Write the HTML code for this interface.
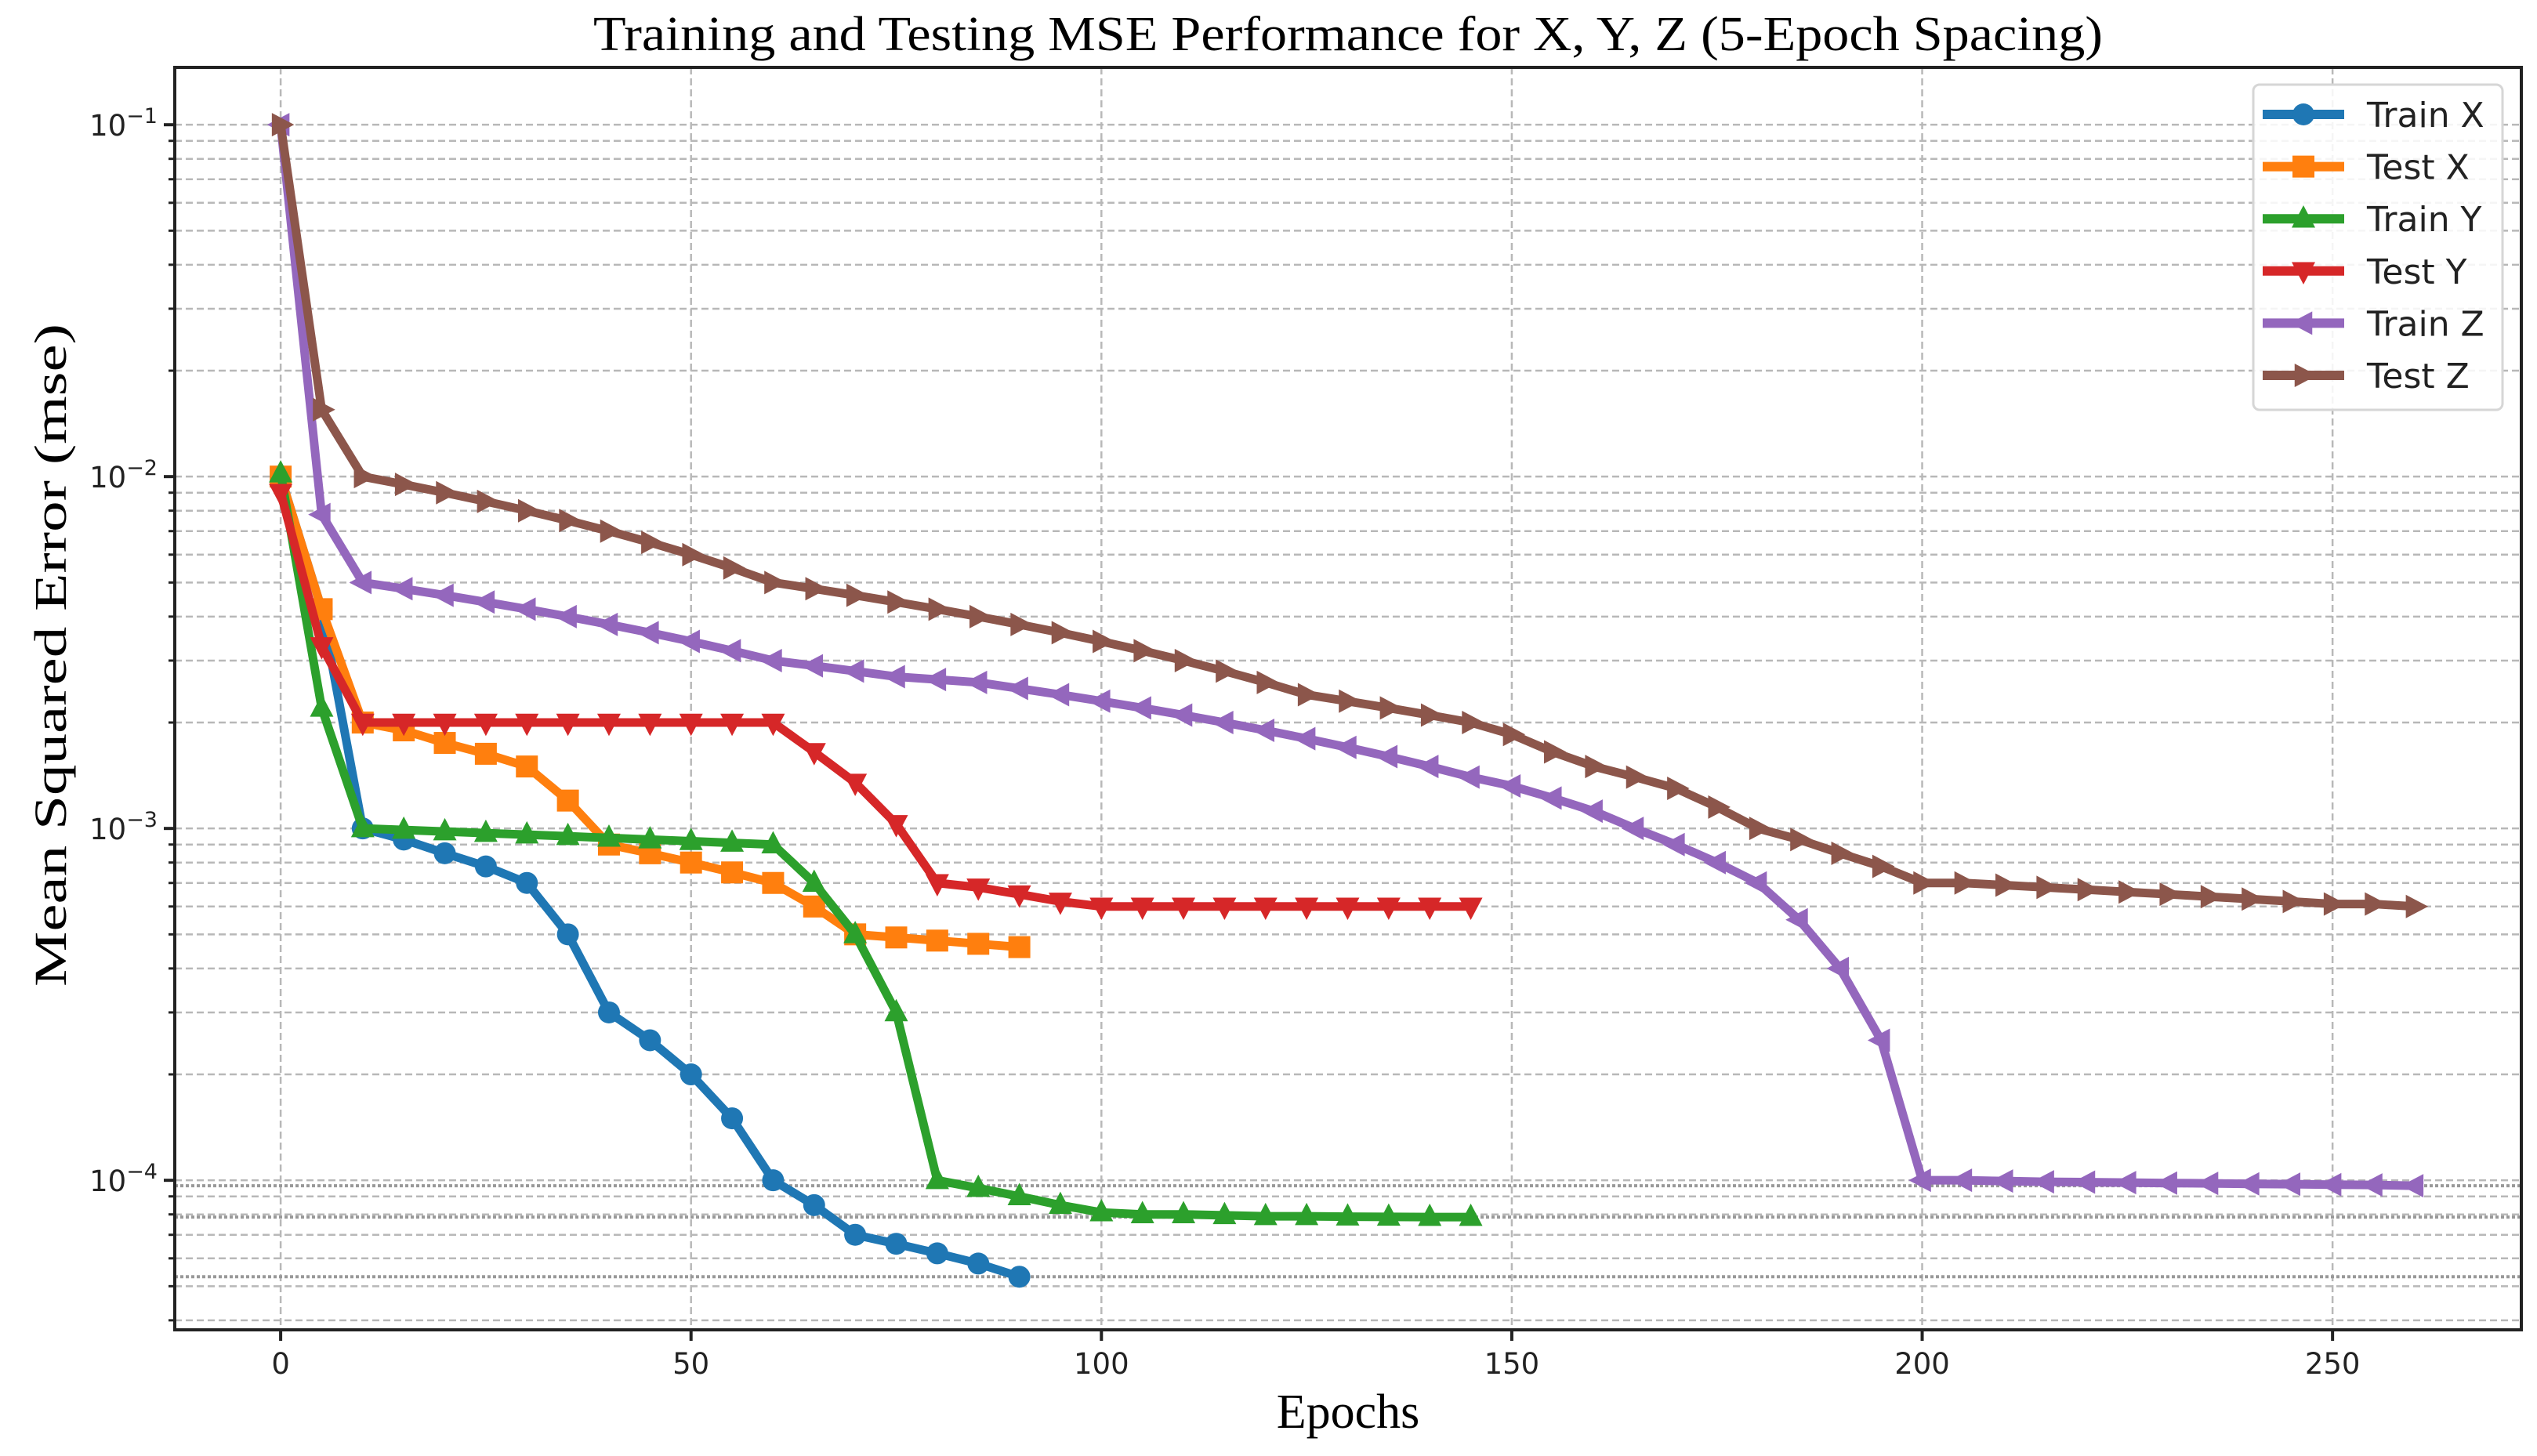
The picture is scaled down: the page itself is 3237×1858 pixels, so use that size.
<!DOCTYPE html>
<html><head><meta charset="utf-8"><style>
html,body{margin:0;padding:0;background:#fff;width:3237px;height:1858px;overflow:hidden}
svg{display:block}
</style></head><body>
<svg id="chart" width="3237" height="1858" viewBox="0 0 3237 1858" xmlns="http://www.w3.org/2000/svg">
<g id="grid"></g>
<g id="hlines"></g>
<g id="series"></g>
<g id="axes"></g>
<text x="1720" y="64" text-anchor="middle" font-family="Liberation Serif, serif" font-size="62" textLength="1926" lengthAdjust="spacingAndGlyphs" fill="#000">Training and Testing MSE Performance for X, Y, Z (5-Epoch Spacing)</text>
<text x="1720" y="1822" text-anchor="middle" font-family="Liberation Serif, serif" font-size="62" fill="#000">Epochs</text>
<text transform="translate(84,836) rotate(-90)" text-anchor="middle" font-family="Liberation Serif, serif" font-size="58" textLength="846" lengthAdjust="spacingAndGlyphs" fill="#000">Mean Squared Error (mse)</text>
<g id="legend"></g>
</svg>
<script>
const trainX = [0.01,0.0042,0.001,0.00093,0.00085,0.00078,0.0007,0.0005,0.0003,0.00025,0.0002,0.00015,0.0001,0.000085,0.00007,0.000066,0.000062,0.000058,0.0000532];
const testX = [0.01,0.0042,0.002,0.0019,0.00175,0.00163,0.0015,0.0012,0.0009,0.00085,0.0008,0.00075,0.0007,0.0006,0.0005,0.00049,0.00048,0.00047,0.00046];
const trainY = [0.0102,0.0022,0.001,0.00099,0.00098,0.00097,0.00096,0.00095,0.00094,0.00093,0.00092,0.00091,0.0009,0.0007,0.0005,0.0003,0.0001,0.000095,0.00009,0.000085,0.000081,0.00008,0.00008,0.0000795,0.000079,0.000079,0.0000788,0.0000787,0.0000786,0.0000786];
const testY = [0.009,0.0033,0.002,0.002,0.002,0.002,0.002,0.002,0.002,0.002,0.002,0.002,0.002,0.00165,0.00135,0.00103,0.0007,0.00068,0.00065,0.00062,0.0006,0.0006,0.0006,0.0006,0.0006,0.0006,0.0006,0.0006,0.0006,0.0006];
const trainZ = [0.1,0.0078,0.005,0.0048,0.0046,0.0044,0.0042,0.004,0.0038,0.0036,0.0034,0.0032,0.003,0.0029,0.0028,0.0027,0.00265,0.0026,0.0025,0.0024,0.0023,0.0022,0.0021,0.002,0.0019,0.0018,0.0017,0.0016,0.0015,0.0014,0.00132,0.00122,0.00112,0.001,0.0009,0.0008,0.0007,0.00055,0.0004,0.00025,0.0001,0.0001,0.0000995,0.000099,0.0000988,0.0000985,0.0000982,0.000098,0.0000977,0.0000975,0.0000972,0.000097,0.0000965];
const testZ = [0.1,0.0155,0.01,0.0095,0.009,0.0085,0.008,0.0075,0.007,0.0065,0.006,0.0055,0.005,0.0048,0.0046,0.0044,0.0042,0.004,0.0038,0.0036,0.0034,0.0032,0.003,0.0028,0.0026,0.0024,0.0023,0.0022,0.0021,0.002,0.00185,0.00165,0.0015,0.0014,0.0013,0.00115,0.001,0.00093,0.00085,0.00078,0.0007,0.0007,0.00069,0.00068,0.00067,0.00066,0.00065,0.00064,0.00063,0.00062,0.00061,0.00061,0.0006];
const refLines = [0.0000965,0.0000786,0.0000532];
const xTicks = [0,50,100,150,200,250];
const yTickExps = [-1,-2,-3,-4];
const legendLabels = ["Train X","Test X","Train Y","Test Y","Train Z","Test Z"];
const EPOCH_STEP = 5;

const NS="http://www.w3.org/2000/svg";
const L=223,R=3217,T=86,B=1697;
const X0=-12.9,X1=273, LOGMIN=-4.425, LOGMAX=-0.837;
const xs=v=>L+(v-X0)/(X1-X0)*(R-L);
const ys=v=>B-(Math.log10(v)-LOGMIN)/(LOGMAX-LOGMIN)*(B-T);
function mk(tag,attrs,parent){const e=document.createElementNS(NS,tag);for(const k in attrs)e.setAttribute(k,attrs[k]);parent.appendChild(e);return e;}
const grid=document.getElementById('grid'),axes=document.getElementById('axes'),ser=document.getElementById('series'),hl=document.getElementById('hlines'),leg=document.getElementById('legend');

xTicks.forEach(t=>{const ln=mk('line',{x1:xs(t),x2:xs(t),y1:T,y2:B,stroke:'#b8b8b8','stroke-width':2.5,'stroke-dasharray':'9,5'},grid);

});
for(let e=-5;e<=0;e++){for(let m=1;m<=9;m++){const v=m*Math.pow(10,e);const lg=Math.log10(v);if(lg<LOGMIN||lg>LOGMAX)continue;const y=ys(v);
const ln=mk('line',{x1:L,x2:R,y1:y,y2:y,stroke:'#b8b8b8','stroke-width':2.5,'stroke-dasharray':'9,5'},grid);


const tk=mk('line',{x1:L-(m===1?14:8),x2:L,y1:y,y2:y,stroke:'#222','stroke-width':m===1?4:3},axes);

}}
refLines.forEach(v=>{const ln=mk('line',{x1:L,x2:R,y1:ys(v),y2:ys(v),stroke:'#999','stroke-width':4,'stroke-dasharray':'4,3'},hl);

});

const colors=['#1f77b4','#ff7f0e','#2ca02c','#d62728','#9467bd','#8c564b'];
const markers=['circle','square','up','down','left','right'];
const datas=[trainX,testX,trainY,testY,trainZ,testZ];
function marker(type,x,y,c,parent){const s=15;let e;
if(type==='circle')e=mk('circle',{cx:x,cy:y,r:14,fill:c},parent);
else if(type==='square')e=mk('rect',{x:x-14,y:y-14,width:28,height:28,fill:c},parent);
else{let p;if(type==='up')p=[[x,y-s*1.15],[x-s,y+s*0.75],[x+s,y+s*0.75]];
else if(type==='down')p=[[x,y+s*1.15],[x-s,y-s*0.75],[x+s,y-s*0.75]];
else if(type==='left')p=[[x-s*1.15,y],[x+s*0.75,y-s],[x+s*0.75,y+s]];
else p=[[x+s*1.15,y],[x-s*0.75,y-s],[x-s*0.75,y+s]];
e=mk('polygon',{points:p.map(q=>q.join(',')).join(' '),fill:c},parent);}
return e;}
datas.forEach((d,i)=>{const g=mk('g',{},ser);


const pts=d.map((v,j)=>xs(j*EPOCH_STEP)+','+ys(v)).join(' ');
const pl=mk('polyline',{points:pts,fill:'none',stroke:colors[i],'stroke-width':11,'stroke-linejoin':'round'},g);


d.forEach((v,j)=>{const m=marker(markers[i],xs(j*EPOCH_STEP),ys(v),colors[i],g);

});});

const sp=mk('rect',{x:L,y:T,width:R-L,height:B-T,fill:'none',stroke:'#222','stroke-width':4},axes);


xTicks.forEach(t=>{const tk=mk('line',{x1:xs(t),x2:xs(t),y1:B,y2:B+14,stroke:'#222','stroke-width':4},axes);


const tx=mk('text',{x:xs(t),y:B+56,'text-anchor':'middle','font-family':'DejaVu Sans, sans-serif','font-size':37,fill:'#222'},axes);


tx.textContent=t;});
yTickExps.forEach(e=>{const y=ys(Math.pow(10,e));
const tx=mk('text',{x:L-22,y:y+14,'text-anchor':'end','font-family':'DejaVu Sans, sans-serif','font-size':37,fill:'#222'},axes);


const b=document.createElementNS(NS,'tspan');b.textContent='10';tx.appendChild(b);
const s=document.createElementNS(NS,'tspan');s.setAttribute('dy','-16');s.setAttribute('font-size','27');s.textContent='\u2212'+(-e);tx.appendChild(s);});

const box=mk('rect',{x:2875,y:108,width:318,height:415,rx:8,fill:'#fff','fill-opacity':0.85,stroke:'#d6d6d6','stroke-width':3},leg);


legendLabels.forEach((lab,i)=>{const y=146+i*66.6;const g=mk('g',{},leg);


mk('line',{x1:2887,x2:2991,y1:y,y2:y,stroke:colors[i],'stroke-width':12},g);
marker(markers[i],2939,y,colors[i],g);
const tx=mk('text',{x:3020,y:y+16,'font-family':'DejaVu Sans, sans-serif','font-size':44,fill:'#222'},g);
tx.textContent=lab;});
</script>
</body></html>
